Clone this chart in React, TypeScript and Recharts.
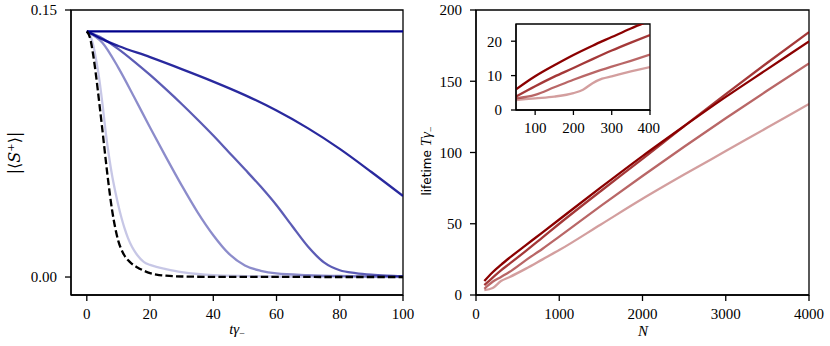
import React from "react";
import { LineChart, Line, XAxis, YAxis, ReferenceArea } from "recharts";

// left panel: |<S+>| against t*gamma_-, one array pair per curve
const tFlat = [0, 100];
const sFlat = [0.138, 0.138];
const tB = [0, 2, 5, 10, 20, 30, 40, 50, 60, 70, 80, 90, 100];
const sB = [0.138, 0.1362, 0.1335, 0.1298, 0.1235, 0.1168, 0.1098, 0.1022, 0.0935, 0.0835, 0.072, 0.059, 0.0455];
const tC = [0, 5, 10, 15, 20, 25, 30, 35, 40, 45, 50, 55, 60, 65, 70, 75, 80, 85, 90, 95, 100];
const sC = [0.138, 0.134, 0.128, 0.121, 0.1135, 0.1055, 0.0972, 0.0885, 0.0795, 0.07, 0.0605, 0.0508, 0.0403, 0.0285, 0.017, 0.0082, 0.0038, 0.0022, 0.0013, 0.0008, 0.0005];
const tD = [0, 5, 10, 15, 20, 25, 30, 35, 40, 45, 50, 55, 60, 70, 80, 100];
const sD = [0.138, 0.1315, 0.1175, 0.101, 0.084, 0.0675, 0.0515, 0.0365, 0.0235, 0.013, 0.0065, 0.0035, 0.002, 0.0011, 0.0006, 0.0002];
const tE = [0, 1, 2, 3, 4, 5, 6, 7, 8, 9, 10, 11, 12, 13, 14, 15, 16, 18, 20, 22, 25, 30, 35, 40, 50, 60, 100];
const sE = [0.138, 0.136, 0.1305, 0.1215, 0.1105, 0.0965, 0.081, 0.068, 0.057, 0.048, 0.04, 0.033, 0.027, 0.022, 0.018, 0.0148, 0.0122, 0.0085, 0.0068, 0.0057, 0.0045, 0.0028, 0.0017, 0.001, 0.0005, 0.0003, 0];
const tDash = [0, 1, 2, 3, 4, 5, 6, 7, 8, 9, 10, 11, 12, 13, 14, 16, 18, 20, 22, 25, 30, 40, 100];
const sDash = [0.138, 0.1345, 0.125, 0.112, 0.097, 0.0815, 0.0655, 0.0505, 0.0375, 0.0275, 0.02, 0.0152, 0.0118, 0.0095, 0.0078, 0.0054, 0.0036, 0.0022, 0.0014, 0.0008, 0.0003, 0.0001, 0];

// right panel: lifetime against N
const nMain = [100, 200, 300, 400, 600, 800, 1000, 1500, 2000, 2500, 3000, 3500, 4000];
const life1 = [9.8, 16, 21.2, 26, 35, 44, 53, 75.5, 97.5, 118.5, 139, 158.5, 178];
const life2 = [6.9, 12.2, 17.3, 21.8, 31, 40.5, 50, 73, 95.5, 118.5, 141, 163, 184.5];
const life3 = [4.4, 9.3, 12.7, 16.1, 24.5, 32.5, 41, 62.5, 83.5, 104, 124, 143.5, 162.5];
const life4 = [3.4, 4.9, 9.8, 12.5, 18.5, 25, 31.5, 49.5, 67.5, 84.5, 101, 117.5, 134];

// inset: small N
const nInset = [50, 100, 150, 200, 250, 300, 350, 400];
const inset1 = [6.0, 9.8, 13.0, 16.0, 18.7, 21.2, 23.7, 26.0];
const inset2 = [3.9, 6.9, 9.7, 12.2, 14.8, 17.3, 19.6, 21.8];
const inset3 = [3.4, 4.4, 6.6, 8.8, 10.8, 12.6, 14.3, 16.1];
const nInset4 = [50, 100, 150, 200, 225, 250, 275, 300, 350, 400];
const inset4 = [2.9, 3.4, 3.9, 4.9, 5.9, 7.8, 9.1, 9.8, 11.2, 12.5];

const zip = (xs: number[], ys: number[]) => xs.map((x, i) => ({ x, y: ys[i] }));

const serif = "Liberation Serif, Times New Roman, serif";
const tickStyle = { fill: "#000", fontSize: 15, fontFamily: serif, style: { fontFamily: serif } };
const axisLine = { stroke: "#000", strokeWidth: 1.3 };
const BLUE = "#00008b";
const RED = "#8b0000";

export default function App() {
  return (
    <div style={{ position: "absolute", left: 0, top: 0, width: 830, height: 346, background: "#fff", fontFamily: serif }}>
      <div style={{ position: "absolute", left: 0, top: 0 }}>
        <LineChart width={415} height={346} margin={{ top: 10, right: 12, bottom: 21, left: 0 }}>
          <XAxis type="number" dataKey="x" domain={[-5, 100]} ticks={[0, 20, 40, 60, 80, 100]} allowDataOverflow
            height={30} tickSize={6} tickMargin={7} tick={tickStyle} axisLine={axisLine} tickLine={axisLine} />
          <YAxis type="number" domain={[-0.0101, 0.15]} ticks={[0, 0.15]} allowDataOverflow width={71}
            tickFormatter={(v: number) => v.toFixed(2)} tickSize={6} tickMargin={8} tick={tickStyle}
            axisLine={axisLine} tickLine={axisLine} />
          <ReferenceArea x1={-5} x2={100} y1={-0.0101} y2={0.15} fill="none" stroke="#000" strokeWidth={1.3} />
          <Line data={zip(tFlat, sFlat)} dataKey="y" stroke={BLUE} strokeWidth={2.3} dot={false} isAnimationActive={false} />
          <Line data={zip(tB, sB)} dataKey="y" type="monotone" stroke={BLUE} strokeOpacity={0.84} strokeWidth={2.3} dot={false} isAnimationActive={false} />
          <Line data={zip(tC, sC)} dataKey="y" type="monotone" stroke={BLUE} strokeOpacity={0.64} strokeWidth={2.3} dot={false} isAnimationActive={false} />
          <Line data={zip(tD, sD)} dataKey="y" type="monotone" stroke={BLUE} strokeOpacity={0.45} strokeWidth={2.3} dot={false} isAnimationActive={false} />
          <Line data={zip(tE, sE)} dataKey="y" type="monotone" stroke={BLUE} strokeOpacity={0.22} strokeWidth={2.3} dot={false} isAnimationActive={false} />
          <Line data={zip(tDash, sDash)} dataKey="y" type="monotone" stroke="#000" strokeDasharray="7.4 3.2" strokeWidth={2.3} dot={false} isAnimationActive={false} />
        </LineChart>
      </div>

      <div style={{ position: "absolute", left: 415, top: 0 }}>
        <LineChart width={415} height={346} margin={{ top: 10, right: 21, bottom: 21, left: 0 }}>
          <XAxis type="number" dataKey="x" domain={[0, 4000]} ticks={[0, 1000, 2000, 3000, 4000]} allowDataOverflow
            height={30} tickSize={6} tickMargin={7} tick={tickStyle} axisLine={axisLine} tickLine={axisLine} />
          <YAxis type="number" domain={[0, 200]} ticks={[0, 50, 100, 150, 200]} allowDataOverflow width={61}
            tickSize={6} tickMargin={8} tick={tickStyle} axisLine={axisLine} tickLine={axisLine} />
          <ReferenceArea x1={0} x2={4000} y1={0} y2={200} fill="none" stroke="#000" strokeWidth={1.3} />
          <Line data={zip(nMain, life4)} dataKey="y" type="monotone" stroke={RED} strokeOpacity={0.38} strokeWidth={2.3} dot={false} isAnimationActive={false} />
          <Line data={zip(nMain, life3)} dataKey="y" type="monotone" stroke={RED} strokeOpacity={0.6} strokeWidth={2.3} dot={false} isAnimationActive={false} />
          <Line data={zip(nMain, life2)} dataKey="y" type="monotone" stroke={RED} strokeOpacity={0.78} strokeWidth={2.3} dot={false} isAnimationActive={false} />
          <Line data={zip(nMain, life1)} dataKey="y" type="monotone" stroke={RED} strokeWidth={2.3} dot={false} isAnimationActive={false} />
        </LineChart>
      </div>

      <div style={{ position: "absolute", left: 476, top: 20 }}>
        <LineChart width={184} height={120} margin={{ top: 4, right: 10, bottom: 0, left: 0 }}>
          <XAxis type="number" dataKey="x" domain={[50, 400]} ticks={[100, 200, 300, 400]} allowDataOverflow
            height={30} tickSize={5} tickMargin={7} tick={tickStyle} axisLine={axisLine} tickLine={axisLine} />
          <YAxis type="number" domain={[0, 25]} ticks={[0, 10, 20]} allowDataOverflow width={40}
            tickSize={5} tickMargin={9} tick={tickStyle} axisLine={axisLine} tickLine={axisLine} />
          <ReferenceArea x1={50} x2={400} y1={0} y2={25} fill="#fff" fillOpacity={1} stroke="#000" strokeWidth={1.3} />
          <Line data={zip(nInset4, inset4)} dataKey="y" type="monotone" stroke={RED} strokeOpacity={0.38} strokeWidth={2.3} dot={false} isAnimationActive={false} />
          <Line data={zip(nInset, inset3)} dataKey="y" type="monotone" stroke={RED} strokeOpacity={0.6} strokeWidth={2.3} dot={false} isAnimationActive={false} />
          <Line data={zip(nInset, inset2)} dataKey="y" type="monotone" stroke={RED} strokeOpacity={0.78} strokeWidth={2.3} dot={false} isAnimationActive={false} />
          <Line data={zip(nInset, inset1)} dataKey="y" type="monotone" stroke={RED} strokeWidth={2.3} dot={false} isAnimationActive={false} />
        </LineChart>
      </div>

      <svg width={830} height={346} style={{ position: "absolute", left: 0, top: 0, pointerEvents: "none" }}>
        <text transform="translate(20,153) rotate(-90)" textAnchor="middle" fontSize={16} style={{ fontFamily: "DejaVu Serif, serif" }} fill="#000">
          |⟨<tspan fontStyle="italic">S</tspan>
          <tspan dy={-6} fontSize={10}>+</tspan>
          <tspan dy={6}>⟩|</tspan>
        </text>
        <text x={237} y={334} textAnchor="middle" fontSize={15} style={{ fontFamily: serif }} fontStyle="italic" fill="#000">
          tγ<tspan dy={3} fontSize={10} fontStyle="normal">−</tspan>
        </text>
        <text x={643} y={336} textAnchor="middle" fontSize={15} style={{ fontFamily: serif }} fontStyle="italic" fill="#000">N</text>
        <text transform="translate(431,161) rotate(-90)" textAnchor="middle" fill="#000">
          <tspan style={{ fontFamily: "DejaVu Sans, sans-serif" }} fontSize={12}>lifetime </tspan>
          <tspan style={{ fontFamily: serif }} fontSize={15} fontStyle="italic">Tγ</tspan>
          <tspan dy={3} style={{ fontFamily: serif }} fontSize={10}>−</tspan>
        </text>
      </svg>
    </div>
  );
}
